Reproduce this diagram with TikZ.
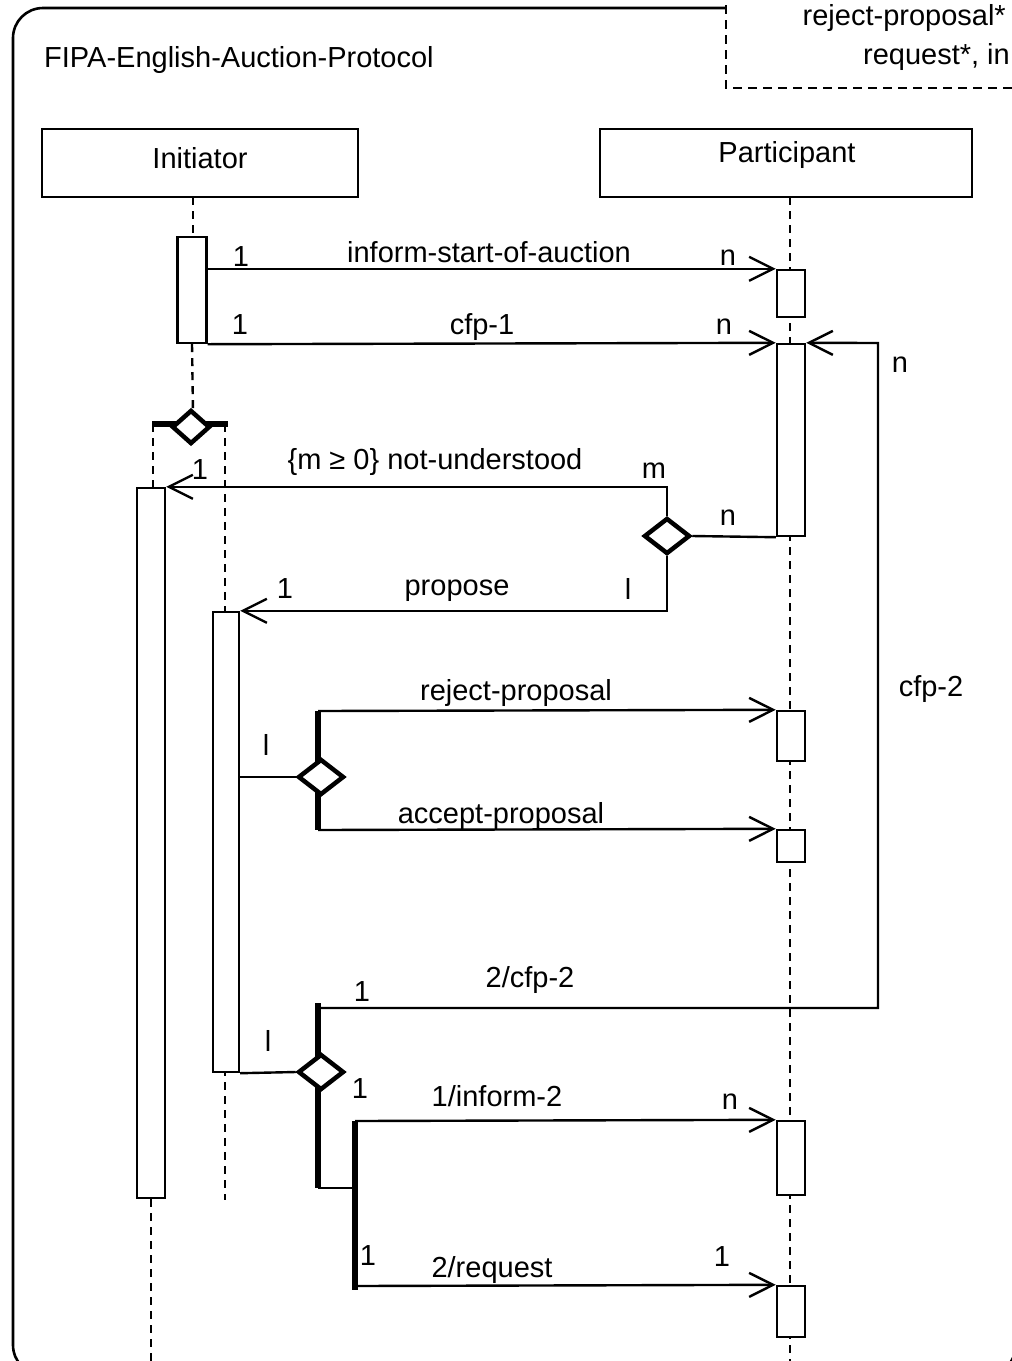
\documentclass[tikz,border=0pt]{standalone}
\usepackage{fontspec}
\setmainfont{Liberation Sans}
\usetikzlibrary{arrows.meta,shapes.geometric}
\begin{document}
\begin{tikzpicture}[x=1pt,y=-1pt,
  font=\fontsize{29}{33}\selectfont,
  lbl/.style={inner sep=0pt,anchor=center},
  headbox/.style={draw,line width=2.4pt,fill=white,inner sep=0pt,minimum height=68pt},
  actbox/.style={draw,line width=2.4pt,fill=white,inner sep=0pt,minimum width=28pt},
  life/.style={line width=2.4pt,dash pattern=on 8pt off 6pt},
  msg/.style={line width=2.4pt,-{Straight Barb[length=24pt,width=24pt]}},
  plain/.style={line width=2.4pt},
  thickbar/.style={line width=6pt},
  dec/.style={diamond,draw,line width=4.5pt,fill=white,inner sep=0pt,minimum width=46pt,minimum height=36pt}
]
\useasboundingbox (0,0) rectangle (1012,1361);
\fill[white] (0,0) rectangle (1012,1361);

% outer frame
\draw[line width=2.6pt,rounded corners=30pt] (13,8) rectangle (1016,1375);
% note box top right
\draw[line width=2.6pt,dash pattern=on 9pt off 6pt,fill=white] (726,-10) rectangle (1040,88);
\node[lbl,anchor=east] (note1) at (1006,18) {reject-proposal*};
\node[lbl,anchor=east] (note2) at (1010,57) {request*, in};

% title
\node[lbl,anchor=west] (title) at (44,60) {FIPA-English-Auction-Protocol};

% lifeline heads
\node[headbox,minimum width=316pt] (ini) at (200,163) {};
\node[lbl] (initxt) at (200,158) {Initiator};
\node[headbox,minimum width=372pt] (par) at (786,163) {};
\node[lbl] (partxt) at (787,155) {Participant};

% participant lifeline
\coordinate (pbot) at (790,1361);
\draw[life] (790,197) -- (pbot);

% initiator lifelines
\coordinate (i0) at (193,197);
\coordinate (i1) at (193,237);
\draw[life] (i0) -- (i1);
\node[actbox,minimum width=29pt,minimum height=106pt] (ia) at (192,290) {};
\coordinate (i2) at (193,412);
\draw[life] (ia.south) -- (i2);
\coordinate (barL) at (152,424);
\coordinate (barR) at (228,424);
\coordinate (thrA) at (153,424);
\coordinate (thrB) at (225,424);
\coordinate (thrBend) at (225,1200);
\draw[life] (thrB) -- (thrBend);
\draw[thickbar] (barL) -- (barR);
\node[dec,minimum width=38pt,minimum height=34pt] (d0) at (191,427) {};

% left activation (not-understood thread)
\node[actbox,minimum width=28pt,minimum height=710pt] (ib1) at (151,843) {};
\draw[life] (thrA) -- (ib1.north -| thrA);
\coordinate (lbot) at (151,1361);
\draw[life] (ib1.south) -- (lbot);

% right activation (propose thread)
\node[actbox,minimum width=26pt,minimum height=460pt] (ib2) at (226,842) {};

% participant activations
\node[actbox,minimum height=47pt] (pa1) at (791,293.5) {};
\node[actbox,minimum height=192pt] (pa2) at (791,440) {};
\node[actbox,minimum height=50pt] (pa3) at (791,736) {};
\node[actbox,minimum height=32pt] (pa4) at (791,846) {};
\node[actbox,minimum height=74pt] (pa5) at (791,1158) {};
\node[actbox,minimum height=51pt] (pa6) at (791,1311.5) {};

% inform-start-of-auction
\draw[msg] (ia.east |- pa1.north) -- (pa1.north west);
\node[lbl] (m1a) at (241,257) {1};
\node[lbl] (m1b) at (489,252) {inform-start-of-auction};
\node[lbl] (m1c) at (728,258) {n};

% cfp-1
\draw[msg] (ia.south east) -- (pa2.north west);
\node[lbl] (m2a) at (240,325) {1};
\node[lbl] (m2b) at (482,327) {cfp-1};
\node[lbl] (m2c) at (724,327) {n};

% participant decision
\node[dec] (d1) at (667,536) {};
\draw[plain] (pa2.south west) -- (d1.east);
\node[lbl] (m3n) at (728,518) {n};

% not-understood
\draw[msg] (d1.north) |- (ib1.north east);
\node[lbl] (m4a) at (200,470) {1};
\node[lbl] (m4b) at (435,462) {\{m ≥ 0\} not-understood};
\node[lbl] (m4c) at (654,471) {m};

% propose
\draw[msg] (d1.south) |- (ib2.north east);
\node[lbl] (m5a) at (285,589) {1};
\node[lbl] (m5b) at (457,591) {propose};
\node[lbl] (m5c) at (628,589) {l};

% reject / accept decision
\coordinate (b1t) at (318,711);
\coordinate (b1b) at (318,830);
\draw[thickbar] (b1t) -- (b1b);
\node[dec] (d2) at (321,777) {};
\draw[plain] (ib2.east |- d2) -- (d2.west);
\draw[msg] (b1t) -- (pa3.north west);
\draw[msg] (b1b) -- (pa4.north west);
\node[lbl] (m6a) at (516,693) {reject-proposal};
\node[lbl] (m6b) at (266,745) {l};
\node[lbl] (m6c) at (501,816) {accept-proposal};

% final decision
\coordinate (b2t) at (318,1003);
\coordinate (b2c) at (318,1008);
\coordinate (b2b) at (318,1188);
\coordinate (b3j) at (355,1188);
\coordinate (b3t) at (355,1121);
\coordinate (b3b) at (355,1290);
\coordinate (b3m) at (355,1286);
\draw[thickbar] (b2t) -- (b2b);
\draw[plain] (b2b) -- (b3j);
\draw[thickbar] (b3t) -- (b3b);
\node[dec] (d3) at (321,1072) {};
\draw[plain] (ib2.south east) -- (d3.west);
\node[lbl] (m7l) at (268,1041) {l};

% cfp-2 loop
\coordinate (c1) at (878,1008);
\coordinate (c2) at (878,343);
\draw[msg] (b2c) -- (c1) -- (c2) -- (pa2.north east);
\node[lbl] (m8a) at (362,992) {1};
\node[lbl] (m8b) at (530,980) {2/cfp-2};
\node[lbl] (m8c) at (900,365) {n};
\node[lbl] (m8d) at (931,689) {cfp-2};

% 1/inform-2
\draw[msg] (b3t) -- (pa5.north west);
\node[lbl] (m9a) at (360,1089) {1};
\node[lbl] (m9b) at (497,1096) {1/inform-2};
\node[lbl] (m9c) at (730,1102) {n};

% 2/request
\draw[msg] (b3m) -- (pa6.north west);
\node[lbl] (m10a) at (368,1256) {1};
\node[lbl] (m10b) at (492,1270) {2/request};
\node[lbl] (m10c) at (722,1257) {1};
\end{tikzpicture}
\end{document}
